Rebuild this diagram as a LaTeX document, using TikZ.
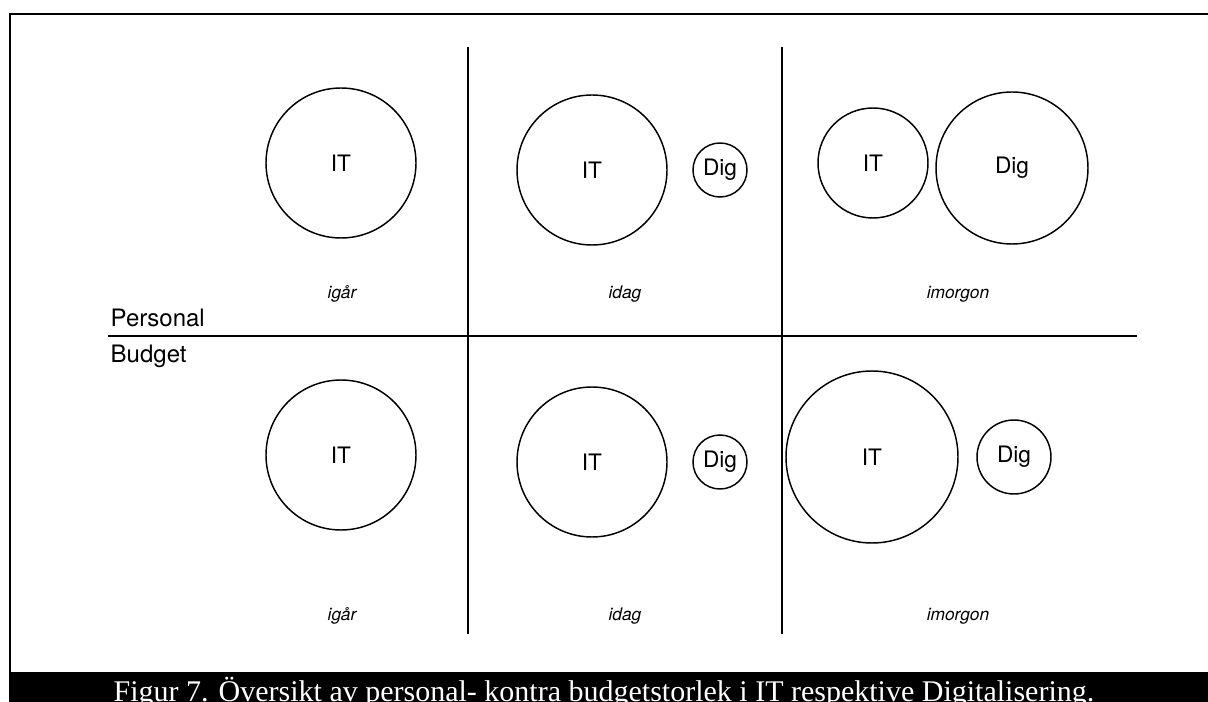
\documentclass[tikz,border=0pt]{standalone}
\usepackage{fontspec}
\setmainfont{TeX Gyre Heros}
\newfontfamily\captionfont{Liberation Serif}

\tikzset{
    bubble/.style={circle, draw, line width=1.1pt, inner sep=0pt,
        minimum size=#1*1.5pt, font=\fontsize{17}{20}\selectfont},
    daylabel/.style={font=\fontsize{13}{15}\selectfont\itshape, anchor=base},
    rowlabel/.style={font=\fontsize{18}{21}\selectfont, anchor=base west},
}

\begin{document}
\begin{tikzpicture}[x=0.75pt, y=-0.75pt]
        \useasboundingbox (0,0) rectangle (1208,702);
        % frame and caption bar
        \fill (9,672) rectangle (1212,706);
        \draw[line width=1.5pt] (10,672) -- (10,14) -- (1212,14);
        \node[text=white, anchor=base,
            font=\captionfont\fontsize{22.5}{26}\selectfont] (caption) at (604,701)
        {Figur 7. Översikt av personal- kontra budgetstorlek i IT respektive Digitalisering.};
        % grid
        \draw[line width=1.5pt] (468,47) -- (468,634);
        \draw[line width=1.5pt] (782,47) -- (782,634);
        \draw[line width=0.9pt] (108,336) -- (1137,336);
        \node[rowlabel] (personal) at (106,327) {Personal};
        \node[rowlabel] (budget) at (106,363) {Budget};
        % personal
        \node[bubble=75] (pitA) at (341,163) {IT};
        \node[bubble=75] (pitB) at (592,170) {IT};
        \node[bubble=27] (pdigB) at (720,170) {Dig};
        \node[bubble=55] (pitC) at (873,163) {IT};
        \node[bubble=76] (pdigC) at (1012,168) {Dig};
        \node[daylabel] (pdayA) at (342,299) {igår};
        \node[daylabel] (pdayB) at (625,299) {idag};
        \node[daylabel] (pdayC) at (958,299) {imorgon};
        % budget
        \node[bubble=75] (bitA) at (341,455) {IT};
        \node[bubble=75] (bitB) at (592,462) {IT};
        \node[bubble=27] (bdigB) at (720,462) {Dig};
        \node[bubble=86] (bitC) at (872,457) {IT};
        \node[bubble=37] (bdigC) at (1014,457) {Dig};
        \node[daylabel] (bdayA) at (342,620) {igår};
        \node[daylabel] (bdayB) at (625,620) {idag};
        \node[daylabel] (bdayC) at (958,620) {imorgon};
\end{tikzpicture}
\end{document}
